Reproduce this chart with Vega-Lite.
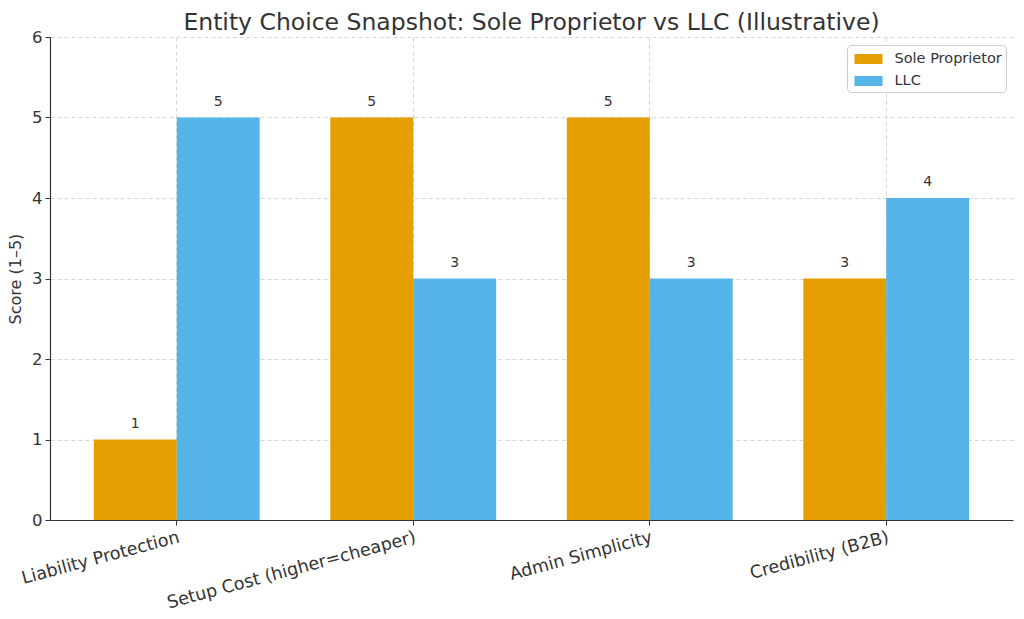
{
  "$schema": "https://vega.github.io/schema/vega-lite/v6.json",
  "autosize": {"type": "none"},
  "padding": {"left": 50, "top": 37, "right": 11, "bottom": 99},
  "width": 963,
  "height": 483,
  "background": "#ffffff",
  "title": {
    "text": "Entity Choice Snapshot: Sole Proprietor vs LLC (Illustrative)",
    "font": "DejaVu Sans",
    "fontSize": 23.5,
    "fontWeight": "normal",
    "color": "#333333",
    "anchor": "middle",
    "offset": -5
  },
  "data": {
    "values": [
      {"category": "Liability Protection", "entity": "Sole Proprietor", "score": 1},
      {"category": "Liability Protection", "entity": "LLC", "score": 5},
      {"category": "Setup Cost (higher=cheaper)", "entity": "Sole Proprietor", "score": 5},
      {"category": "Setup Cost (higher=cheaper)", "entity": "LLC", "score": 3},
      {"category": "Admin Simplicity", "entity": "Sole Proprietor", "score": 5},
      {"category": "Admin Simplicity", "entity": "LLC", "score": 3},
      {"category": "Credibility (B2B)", "entity": "Sole Proprietor", "score": 3},
      {"category": "Credibility (B2B)", "entity": "LLC", "score": 4}
    ]
  },
  "encoding": {
    "x": {
      "field": "category",
      "type": "nominal",
      "sort": null,
      "scale": {"paddingInner": 0, "paddingOuter": 0.036},
      "axis": {
        "title": null,
        "bandPosition": 0.5,
        "labelAngle": -15,
        "labelAlign": "right",
        "labelBaseline": "top",
        "labelFont": "DejaVu Sans",
        "labelFontSize": 17.5,
        "labelColor": "#333333",
        "labelPadding": 3,
        "labelDx": -4,
        "labelLimit": 0,
        "domainColor": "#333333",
        "domainWidth": 1.2,
        "tickColor": "#333333",
        "tickSize": 5,
        "grid": true,
        "gridColor": "#cccccc",
        "gridDash": [4, 3],
        "gridWidth": 0.8
      }
    },
    "xOffset": {
      "field": "entity",
      "type": "nominal",
      "sort": ["Sole Proprietor", "LLC"],
      "scale": {"paddingInner": 0, "paddingOuter": 0.426}
    },
    "y": {
      "field": "score",
      "type": "quantitative",
      "scale": {"domain": [0, 6], "nice": false},
      "axis": {
        "title": "Score (1–5)",
        "titleFont": "DejaVu Sans",
        "titleFontSize": 16,
        "titleFontWeight": "normal",
        "titleColor": "#333333",
        "titlePadding": 8,
        "values": [0, 1, 2, 3, 4, 5, 6],
        "labelFont": "DejaVu Sans",
        "labelFontSize": 16.5,
        "labelColor": "#333333",
        "labelPadding": 3,
        "domainColor": "#333333",
        "domainWidth": 1.2,
        "tickColor": "#333333",
        "tickSize": 5,
        "grid": true,
        "gridColor": "#cccccc",
        "gridDash": [4, 3],
        "gridWidth": 0.8
      }
    }
  },
  "layer": [
    {
      "mark": {"type": "bar"},
      "encoding": {
        "color": {
          "field": "entity",
          "type": "nominal",
          "sort": ["Sole Proprietor", "LLC"],
          "scale": {"domain": ["Sole Proprietor", "LLC"], "range": ["#E69F00", "#56B4E9"]},
          "legend": {
            "title": null,
            "orient": "none",
            "legendX": 797,
            "legendY": 8,
            "direction": "vertical",
            "labelFont": "DejaVu Sans",
            "labelFontSize": 14.5,
            "labelColor": "#333333",
            "labelOffset": 16,
            "symbolOffset": 7.5,
            "symbolType": "M-1.4,-0.5h2.8v1h-2.8z",
            "symbolSize": 400,
            "symbolStrokeWidth": 0,
            "rowPadding": 5,
            "padding": 4,
            "strokeColor": "#cccccc",
            "fillColor": "#ffffff",
            "cornerRadius": 4
          }
        }
      }
    },
    {
      "mark": {
        "type": "text",
        "baseline": "bottom",
        "dy": -9,
        "font": "DejaVu Sans",
        "fontSize": 14,
        "color": "#333333"
      },
      "encoding": {
        "text": {"field": "score", "type": "quantitative"}
      }
    }
  ],
  "config": {
    "view": {"stroke": null},
    "font": "DejaVu Sans"
  }
}
